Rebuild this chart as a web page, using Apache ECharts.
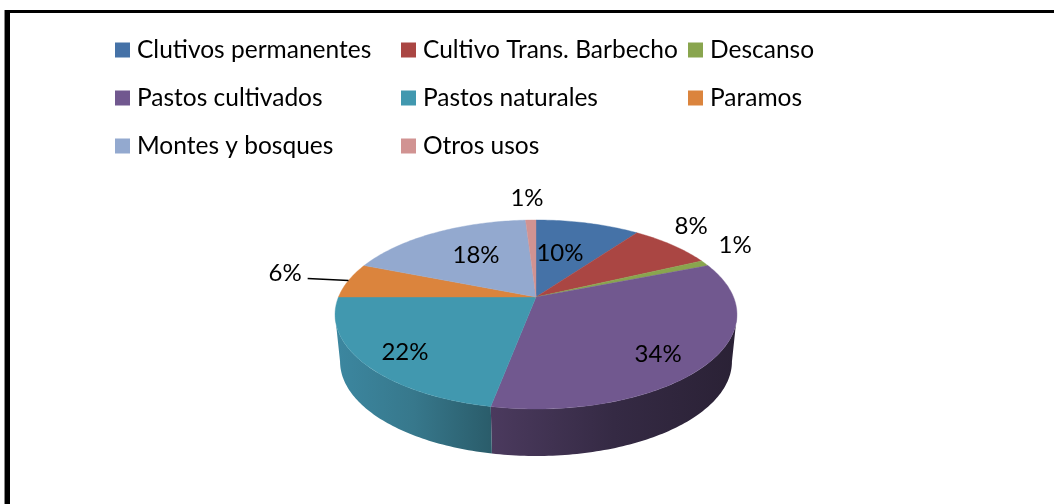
<!DOCTYPE html>
<html><head><meta charset="utf-8">
<style>html,body{margin:0;padding:0;background:#fff}#c{width:1054px;height:504px}</style>
<script src="https://cdn.jsdelivr.net/npm/echarts@6/dist/echarts.min.js"></script>
</head><body><div id="c"></div>
<script>
const categories = ['Clutivos permanentes','Cultivo Trans. Barbecho','Descanso','Pastos cultivados','Pastos naturales','Paramos','Montes y bosques','Otros usos'];
const shares = [10,8,1,34,22,6,18,1];
const colors = ['#4572A7','#AA4643','#89A54E','#71588F','#4198AF','#DB843D','#93A9CF','#D19392'];
const wallStops = {3:['#4b3a5e','#352a44','#2a2135'],4:['#3c87a0','#37788c','#2a5c6a']};
const labelRadius = [0.546,1.29,1.295,0.788,0.806,1.364,0.603,1.358];
const labelShift = [-3.9,-5.1,-6.1,5.7,-2.6,0.9,2.6,-0.6];
const legendColumns = [[0,3,6],[1,4,7],[2,5]];
const legendLeft = [115,401,688];

const FONT = 'Lato, "Open Sans", sans-serif';
const APEX = {x:536,y:297}, PERSP = 0.185, SX = 197.5, SY = 91.26, DEPTH = 47, BASE_SCALE = 0.975;
const EXTREME = Math.acos(-PERSP) * 180 / Math.PI;
const total = shares.reduce((a,b)=>a+b,0);
const starts = shares.map((_,i)=>shares.slice(0,i).reduce((a,b)=>a+b,0)/total*360);

function project(deg, r){
  const t = deg*Math.PI/180, u = r*Math.sin(t), v = r*Math.cos(t), w = 1+PERSP*v;
  return [APEX.x+SX*u/w, APEX.y-SY*v/w];
}
function arc(from,to,r){
  const pts=[], n=Math.max(2,Math.ceil(Math.abs(to-from)));
  for(let i=0;i<=n;i++) pts.push(project(from+(to-from)*i/n,r));
  return pts;
}
function renderSlice(i){
  return function(params, api){
    const value = api.value(0), a0 = starts[i], a1 = a0 + value/total*360, mid=(a0+a1)/2;
    const children = [];
    const w0 = Math.max(a0,EXTREME), w1 = Math.min(a1,360-EXTREME);
    if (w1>w0){
      const top = arc(w0,w1,1);
      const base = top.map(p=>[APEX.x+(p[0]-APEX.x)*BASE_SCALE,p[1]+DEPTH]).reverse();
      const st = wallStops[i] || [colors[i],colors[i],colors[i]];
      children.push({type:'polygon',z2:1,shape:{points:top.concat(base)},
        style:{fill:new echarts.graphic.LinearGradient(0,0,1,0,[
          {offset:0,color:st[0]},{offset:.5,color:st[1]},{offset:1,color:st[2]}])}});
    }
    const face = [[APEX.x,APEX.y]].concat(arc(a0,a1,1));
    children.push({type:'polygon',z2:2,shape:{points:face},style:{fill:colors[i],stroke:colors[i],lineWidth:0.4}});
    const lp = project(mid+labelShift[i],labelRadius[i]);
    children.push({type:'text',z2:4,x:lp[0],y:lp[1],style:{text:shares[i]+'%',fill:'#000',
      font:'24px '+FONT,textAlign:'center',textVerticalAlign:'middle'}});
    if (labelRadius[i]>1.33 && mid>180 && mid<300){
      children.push({type:'polyline',z2:3,shape:{points:[project(mid-0.8,1.22),project(mid,1)]},
        style:{stroke:'#000',lineWidth:1.5,fill:null}});
    }
    return {type:'group',children};
  };
}
const chart = echarts.init(document.getElementById('c'),null,{renderer:'canvas'});
chart.setOption({
  animation:false,
  backgroundColor:'#fff',
  legend: legendColumns.map((col,k)=>({
    orient:'vertical',left:legendLeft[k],top:35,padding:0,itemWidth:15,itemHeight:15,itemGap:18,icon:'rect',
    selectedMode:false,data:col.map(i=>categories[i]),
    textStyle:{fontFamily:FONT,fontSize:24.5,color:'#000',padding:[0,0,0,2],lineHeight:30}
  })),
  graphic:[
    {type:'rect',shape:{x:5,y:10,width:5,height:494},style:{fill:'#000'},silent:true},
    {type:'rect',shape:{x:4,y:10,width:1,height:494},style:{fill:'#888'},silent:true},
    {type:'rect',shape:{x:5,y:10,width:1049,height:3},style:{fill:'#000'},silent:true}
  ],
  series: categories.map((name,i)=>({
    type:'custom',name,coordinateSystem:'none',itemStyle:{color:colors[i]},
    data:[[shares[i]]],renderItem:renderSlice(i),silent:true
  }))
});
</script></body></html>
